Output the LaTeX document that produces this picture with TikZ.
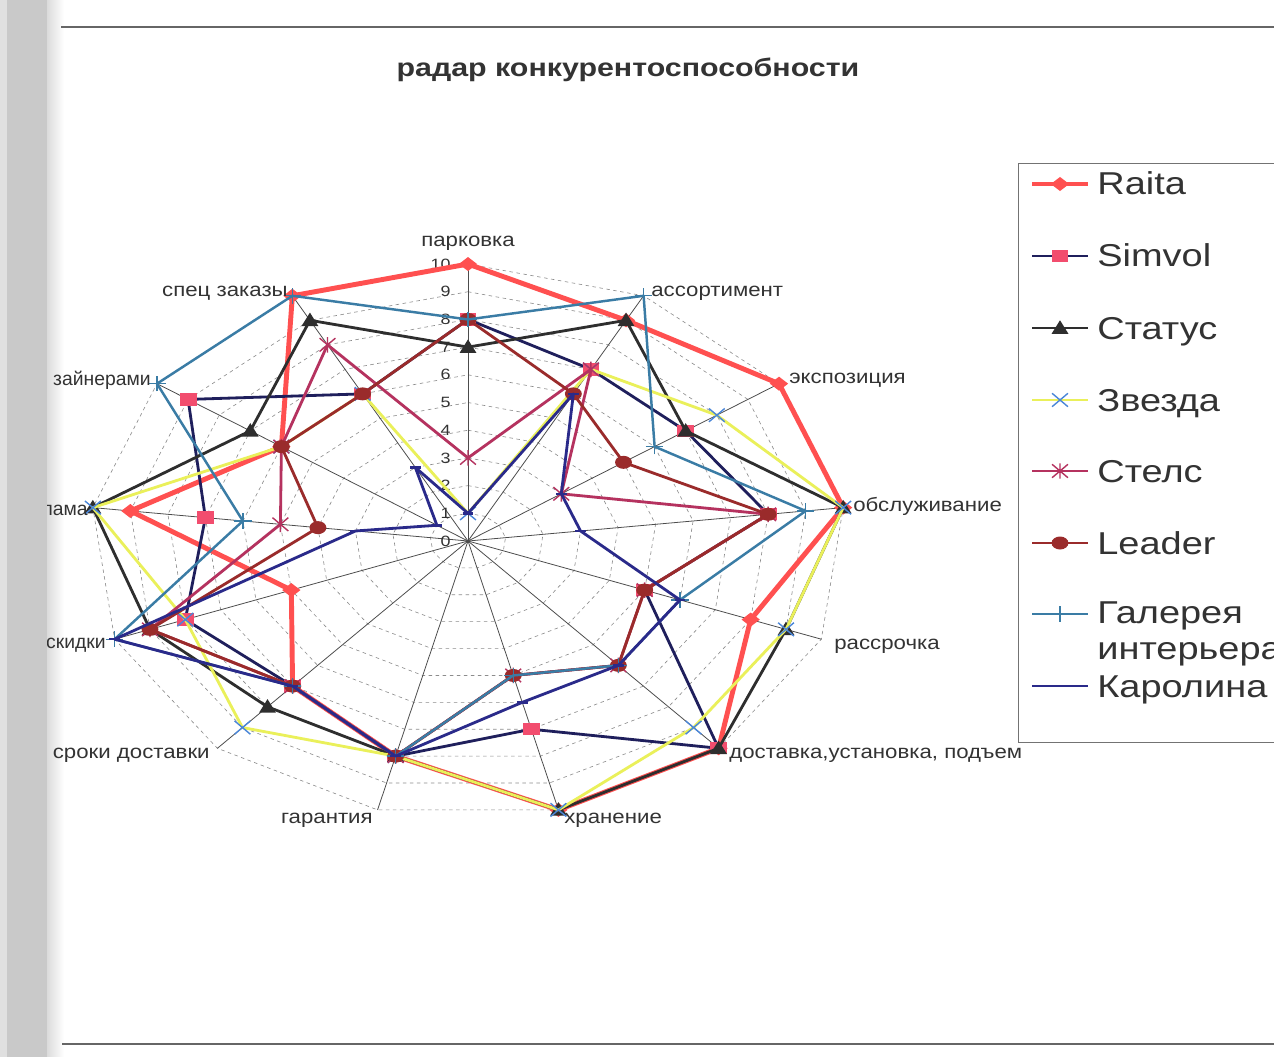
\documentclass[tikz,border=0pt]{standalone}
\usepackage{fontspec}
\setmainfont{Liberation Sans}
\usetikzlibrary{calc}

\definecolor{raitacol}{HTML}{FF5050}
\definecolor{simvolcol}{HTML}{1F1F5C}
\definecolor{simvolmk}{HTML}{F24D6E}
\definecolor{statuscol}{HTML}{2E2E2E}
\definecolor{zvezdacol}{HTML}{EAF05A}
\definecolor{zvezdamk}{HTML}{4A86D8}
\definecolor{stelscol}{HTML}{B5325F}
\definecolor{leadercol}{HTML}{9A2B2B}
\definecolor{galcol}{HTML}{3A7CA5}
\definecolor{karolcol}{HTML}{2A2A8A}
\definecolor{txtcol}{HTML}{333333}

\newcommand{\wide}[1]{\scalebox{1.2}[1]{#1}}
\newcommand{\axwide}[1]{\scalebox{1.15}[1]{#1}}

\tikzset{
  gridline/.style={black!45, dash pattern=on 2pt off 2pt, line width=0.35pt},
  axisline/.style={black!70, line width=0.45pt},
  ticklbl/.style={font=\fontsize{8.5}{10}\selectfont, text=txtcol, inner sep=0pt},
  axlbl/.style={font=\fontsize{11}{13}\selectfont, text=txtcol, inner sep=0pt},
  leglbl/.style={font=\fontsize{18}{20.4}\selectfont, text=txtcol, inner sep=0pt},
  titlelbl/.style={font=\fontsize{14.4}{17}\selectfont\bfseries, text=txtcol},
  raitaline/.style={draw=raitacol, line width=2.8pt, line join=round},
  simvolline/.style={draw=simvolcol, line width=1.6pt, line join=round},
  statusline/.style={draw=statuscol, line width=1.6pt, line join=round},
  zvezdaline/.style={draw=zvezdacol, line width=1.6pt, line join=round},
  stelsline/.style={draw=stelscol, line width=1.6pt, line join=round},
  leaderline/.style={draw=leadercol, line width=1.6pt, line join=round},
  galline/.style={draw=galcol, line width=1.4pt, line join=round},
  karolline/.style={draw=karolcol, line width=1.6pt, line join=round},
  mdiamond/.pic={\fill (-5.2pt,0) -- (0,4pt) -- (5.2pt,0) -- (0,-4pt) -- cycle;},
  msquare/.pic={\fill (-4.8pt,-3.5pt) rectangle (4.8pt,3.5pt);},
  mtriangle/.pic={\fill (-4.8pt,-3.3pt) -- (4.8pt,-3.3pt) -- (0,4.4pt) -- cycle;},
  mcross/.pic={\draw[line width=0.8pt] (-4.5pt,-3.8pt) -- (4.5pt,3.8pt) (-4.5pt,3.8pt) -- (4.5pt,-3.8pt);},
  mstar/.pic={\draw[line width=0.8pt] (-4.5pt,-3.8pt) -- (4.5pt,3.8pt) (-4.5pt,3.8pt) -- (4.5pt,-3.8pt) (0,-4.4pt) -- (0,4.4pt);},
  mcircle/.pic={\fill (0,0) ellipse [x radius=4.8pt, y radius=3.7pt];},
  mplus/.pic={\draw[line width=0.8pt] (-5pt,0) -- (5pt,0) (0,-4.4pt) -- (0,4.4pt);},
  mdash/.pic={\draw[line width=1.4pt] (-3pt,0) -- (3pt,0);},
}

\begin{document}
\begin{tikzpicture}[x=0.02cm, y=-0.02cm]
  \useasboundingbox (0,0) rectangle (1274,1057);
  \fill[white] (0,0) rectangle (1274,1057);
  \shade[left color=black!14, right color=white] (47,0) rectangle (64,1057);
  % page rules of the scan
  \draw[black!60, line width=0.6pt] (61,27) -- (1274,27);
  \draw[black!60, line width=0.6pt] (62,1044) -- (1274,1044);

  \node[titlelbl] (title) at (628,70) {\wide{радар конкурентоспособности}};

  \begin{scope}[shift={(468,541)}, x=0.756cm, y=0.554cm]
    % grid and axes
    \foreach \v in {1,...,10}
      \draw[gridline] (90:\v) \foreach \k in {1,...,12}{ -- ({90-\k*360/13}:\v)} -- cycle;
    \foreach \k in {0,...,12}
      \draw[axisline] (0,0) -- ({90-\k*360/13}:10) coordinate (ax-\k);
    \foreach \v in {0,...,10}
      \node[ticklbl, anchor=east] (tick-\v) at (-0.45,\v) {\wide{\v}};

    % series
    \foreach \nm/\vals/\ln/\mk/\mc in {
      raita/{10,9,10,10,8,10,10,8,7,5,9,6,10}/raitaline/mdiamond/raitacol,
      simvol/{8,7,7,8,5,10,7,8,7,8,7,9,6}/simvolline/msquare/simvolmk,
      status/{7,9,7,10,9,10,10,8,8,9,10,7,9}/statusline/mtriangle/statuscol,
      zvezda/{1,7,8,10,9,9,10,8,9,8,10,6,6}/zvezdaline/mcross/zvezdamk,
      stels/{3,7,3,8,5,6,5,8,7,9,5,6,8}/stelsline/mstar/stelscol,
      leader/{8,6,5,8,5,6,5,8,7,9,4,6,6}/leaderline/mcircle/leadercol,
      galereya/{8,10,6,9,6,6,5,8,7,10,6,10,10}/galline/mplus/galcol,
      karolina/{1,6,3,3,6,6,6,8,7,10,3,1,3}/karolline/mdash/karolcol}
    {
      \foreach \v [count=\k from 0] in \vals
        \coordinate (\nm-\k) at ({90-\k*360/13}:\v);
      \draw[\ln] (\nm-0) \foreach \k in {1,...,12}{ -- (\nm-\k)} -- cycle;
      \foreach \k in {0,...,12}
        \pic[\mc] at (\nm-\k) {\mk};
    }
  \end{scope}

  % axis labels
  \node[axlbl, anchor=base] (lbl-0) at (468,247) {\axwide{парковка}};
  \node[axlbl, anchor=base west] (lbl-1) at (651,297) {\axwide{ассортимент}};
  \node[axlbl, anchor=base west] (lbl-2) at (789,383) {\axwide{экспозиция}};
  \node[axlbl, anchor=base west] (lbl-3) at (853,511) {\axwide{обслуживание}};
  \node[axlbl, anchor=base west] (lbl-4) at (834,649) {\axwide{рассрочка}};
  \node[axlbl, anchor=base west] (lbl-5) at (729,758) {\axwide{доставка,установка, подъем}};
  \node[axlbl, anchor=base west] (lbl-6) at (564,823) {\axwide{хранение}};
  \node[axlbl, anchor=base east] (lbl-7) at (373,823) {\axwide{гарантия}};
  \node[axlbl, anchor=base east] (lbl-8) at (210,758) {\axwide{сроки доставки}};
  \node[axlbl, anchor=base east] (lbl-9) at (106,648) {скидки};
  \node[axlbl, anchor=base east] (lbl-10) at (88,515) {лама};
  \node[axlbl, anchor=base east] (lbl-11) at (151,385) {зайнерами};
  \node[axlbl, anchor=base east] (lbl-12) at (288,297) {\axwide{спец заказы}};

  % legend
  \draw[black!55, line width=0.5pt] (1018,163) rectangle (1300,742);
  \foreach \txt/\ln/\mk/\mc/\y in {Raita/raitaline/mdiamond/raitacol/184,
      Simvol/simvolline/msquare/simvolmk/256,
      Статус/statusline/mtriangle/statuscol/328,
      Звезда/zvezdaline/mcross/zvezdamk/400,
      Стелс/stelsline/mstar/stelscol/471,
      Leader/leaderline/mcircle/leadercol/543,
      Каролина/karolline/mdash/karolcol/686}
  {
    \draw[\ln] (1032,\y) -- (1088,\y);
    \pic[\mc] at (1060,\y) {\mk};
    \node[leglbl, anchor=base west] (leg-\txt) at (1097,{\y+11}) {\wide{\txt}};
  }
  \draw[galline] (1032,614) -- (1088,614);
  \pic[galcol] at (1060,614) {mplus};
  \node[leglbl, anchor=west, align=left] (leg-gal) at (1097,634) {\wide{Галерея}\\\wide{интерьера}};

  % dark margin of the scanned page
  \fill[black!12] (0,0) rectangle (7,1057);
  \fill[black!21] (7,0) rectangle (47,1057);
\end{tikzpicture}
\end{document}
